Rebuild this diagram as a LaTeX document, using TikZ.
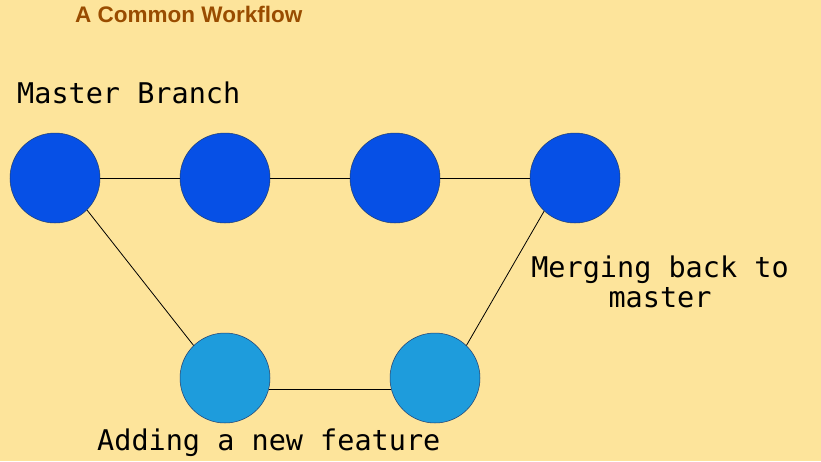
\documentclass[tikz,border=0pt]{standalone}
\usepackage{fontspec}
\setmainfont{Liberation Sans}
\newfontfamily\monofnt{DejaVu Sans Mono}
\definecolor{bgcol}{RGB}{253,228,155}
\definecolor{titlecol}{RGB}{153,76,0}
\definecolor{masterblue}{RGB}{6,80,230}
\definecolor{featblue}{RGB}{30,156,220}
\definecolor{rimcol}{RGB}{30,60,110}
\begin{document}
\begin{tikzpicture}[x=1pt,y=-1pt,
  commit/.style={circle,minimum size=90pt,inner sep=0pt,draw=rimcol,line width=0.5pt},
  mcommit/.style={commit,fill=masterblue},
  fcommit/.style={commit,fill=featblue},
  link/.style={draw=black,line width=0.8pt},
  lbl/.style={font=\monofnt\fontsize{28.5}{30}\selectfont,inner sep=0pt}]
\fill[bgcol] (0,0) rectangle (821,461);
\useasboundingbox (0,0) rectangle (821,461);
\node[anchor=base west,inner sep=0pt,text=titlecol,font=\bfseries\fontsize{22.5}{24}\selectfont] (title) at (75,22) {A Common Workflow};
\node[lbl,anchor=base west] (mlabel) at (17,103) {Master Branch};
\node[mcommit] (m1) at (55,178) {};
\node[mcommit] (m2) at (225,178) {};
\node[mcommit] (m3) at (395,178) {};
\node[mcommit] (m4) at (575,178) {};
\node[fcommit] (f1) at (225,378) {};
\node[fcommit] (f2) at (435,378) {};
\draw[link] (m1) -- (m2);
\draw[link] (m2) -- (m3);
\draw[link] (m3) -- (m4);
\draw[link] (m1.-45) -- (f1.134);
\draw[link] (f1.-14) -- (f2.194);
\draw[link] (f2.46) -- (m4.227);
\node[lbl,anchor=base] (mergelabel1) at (660,277) {Merging back to};
\node[lbl,anchor=base] (mergelabel2) at (660,307) {master};
\node[lbl,anchor=base west] (flabel) at (97,450) {Adding a new feature};
\end{tikzpicture}
\end{document}
